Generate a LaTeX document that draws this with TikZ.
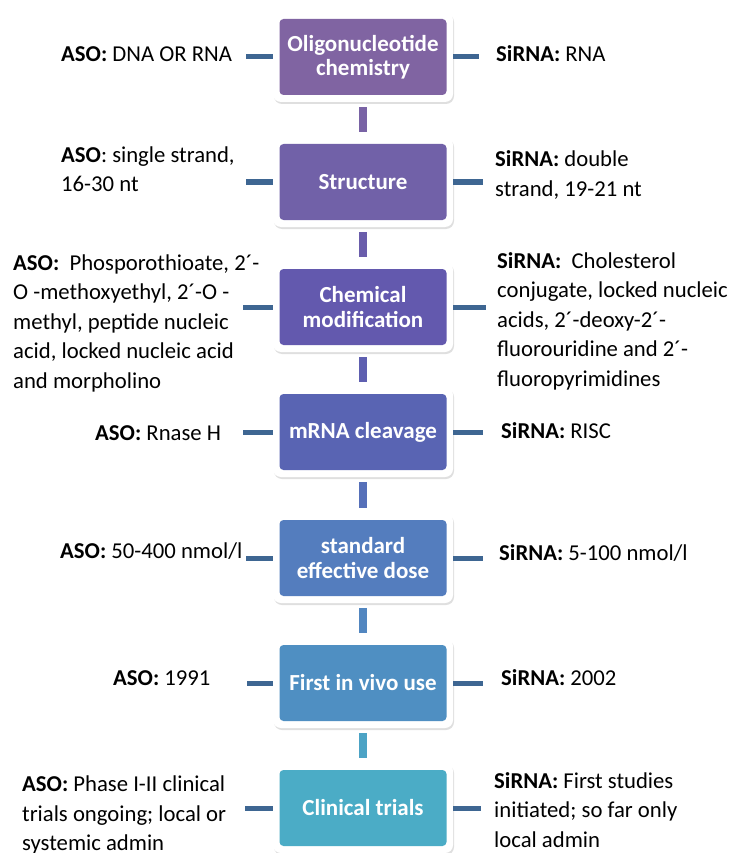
\documentclass[tikz,border=0pt]{standalone}
\usepackage{fontspec}
\setmainfont{Carlito}
\usetikzlibrary{shadows}

\definecolor{stepA}{HTML}{8064A2}
\definecolor{stepB}{HTML}{7161A8}
\definecolor{stepC}{HTML}{6359AE}
\definecolor{stepD}{HTML}{5964B3}
\definecolor{stepE}{HTML}{547DBE}
\definecolor{stepF}{HTML}{4F8FC2}
\definecolor{stepG}{HTML}{4BACC6}
\definecolor{linkblue}{HTML}{3E6692}

\begin{document}
\begin{tikzpicture}[x=1pt, y=-1pt,
  stepbox/.style={fill=white, rounded corners=8pt, minimum width=180pt, minimum height=90pt,
    inner sep=0pt, align=center, text=white, font=\fontsize{23}{24.5}\selectfont\bfseries,
    drop shadow={shadow xshift=1pt, shadow yshift=-2pt, opacity=0.25},
    path picture={\fill[#1, rounded corners=4pt]
      ([shift={(6.5pt,7pt)}]path picture bounding box.south west) rectangle
      ([shift={(-6.5pt,-7pt)}]path picture bounding box.north east);}},
  notetext/.style={inner sep=0pt, align=left, font=\fontsize{22.7}{29.5}\selectfont},
  link/.style={draw=linkblue, line width=5pt},
  bar/.style={line width=8pt, shorten <=5pt, shorten >=5pt}]

\useasboundingbox (0,0) rectangle (735,853);

\coordinate (l1) at (246,57);
\coordinate (l2) at (246,182);
\coordinate (l3) at (243,307);
\coordinate (l4) at (243,432);
\coordinate (l5) at (246,558);
\coordinate (l6) at (247,683);
\coordinate (l7) at (245,808);
\coordinate (r1) at (479,57);
\coordinate (r2) at (483,182);
\coordinate (r3) at (486,307);
\coordinate (r4) at (483,432);
\coordinate (r5) at (483,558);
\coordinate (r6) at (483,683);
\coordinate (r7) at (481,808);

% boxes
\node[stepbox=stepA] (chem) at (363,57) {Oligonucleotide\\chemistry};
\node[stepbox=stepB] (struct) at (363,182) {Structure};
\node[stepbox=stepC] (mod) at (363,307) {Chemical\\modification};
\node[stepbox=stepD] (cleave) at (363,432) {mRNA cleavage};
\node[stepbox=stepE] (dose) at (363,558) {standard\\effective dose};
\node[stepbox=stepF] (vivo) at (363,683) {First in vivo use};
\node[stepbox=stepG] (trials) at (363,808) {Clinical trials};

% bars between boxes
\draw[bar, stepA!55!stepB] (chem) -- (struct);
\draw[bar, stepB!50!stepC] (struct) -- (mod);
\draw[bar, stepC!50!stepD] (mod) -- (cleave);
\draw[bar, stepD!50!stepE] (cleave) -- (dose);
\draw[bar, stepE!50!stepF] (dose) -- (vivo);
\draw[bar, stepF!30!stepG] (vivo) -- (trials);

% links to the texts
\draw[link] (l1) -- (chem.west);
\draw[link] (l2) -- (struct.west);
\draw[link] (l3) -- (mod.west);
\draw[link] (l4) -- (cleave.west);
\draw[link] (l5) -- (dose.west);
\draw[link] (l6) -- (vivo.west);
\draw[link] (l7) -- (trials.west);
\draw[link] (chem.east) -- (r1);
\draw[link] (struct.east) -- (r2);
\draw[link] (mod.east) -- (r3);
\draw[link] (cleave.east) -- (r4);
\draw[link] (dose.east) -- (r5);
\draw[link] (vivo.east) -- (r6);
\draw[link] (trials.east) -- (r7);

% ASO
\node[notetext, anchor=base west] (aso1) at (61,62) {\textbf{ASO:} DNA OR RNA};
\node[notetext, anchor=west] (aso2) at (61,169) {\textbf{ASO}: single strand,\\16-30 nt};
\node[notetext, anchor=west] (aso3) at (13,323) {\textbf{ASO:}\ \ Phosporothioate, 2´-\\O -methoxyethyl, 2´-O -\\methyl, peptide nucleic\\acid, locked nucleic acid\\and morpholino};
\node[notetext, anchor=base west] (aso4) at (95,440) {\textbf{ASO:} Rnase H};
\node[notetext, anchor=base west] (aso5) at (60,558) {\textbf{ASO:} 50-400 nmol/l};
\node[notetext, anchor=base west] (aso6) at (113,685) {\textbf{ASO:} 1991};
\node[notetext, anchor=west] (aso7) at (22,815) {\textbf{ASO:} Phase I-II clinical\\trials ongoing; local or\\systemic admin};

% SiRNA
\node[notetext, anchor=base west] (si1) at (496,62) {\textbf{SiRNA:} RNA};
\node[notetext, anchor=west] (si2) at (495,175) {\textbf{SiRNA:} double\\strand, 19-21 nt};
\node[notetext, anchor=west] (si3) at (497,321) {\textbf{SiRNA:}\ \ Cholesterol\\conjugate, locked nucleic\\acids, 2´-deoxy-2´-\\fluorouridine and 2´-\\fluoropyrimidines};
\node[notetext, anchor=base west] (si4) at (501,438) {\textbf{SiRNA:} RISC};
\node[notetext, anchor=base west] (si5) at (499,560) {\textbf{SiRNA:} 5-100 nmol/l};
\node[notetext, anchor=base west] (si6) at (501,685) {\textbf{SiRNA:} 2002};
\node[notetext, anchor=west] (si7) at (494,810) {\textbf{SiRNA:} First studies\\initiated; so far only\\local admin};
\end{tikzpicture}
\end{document}
